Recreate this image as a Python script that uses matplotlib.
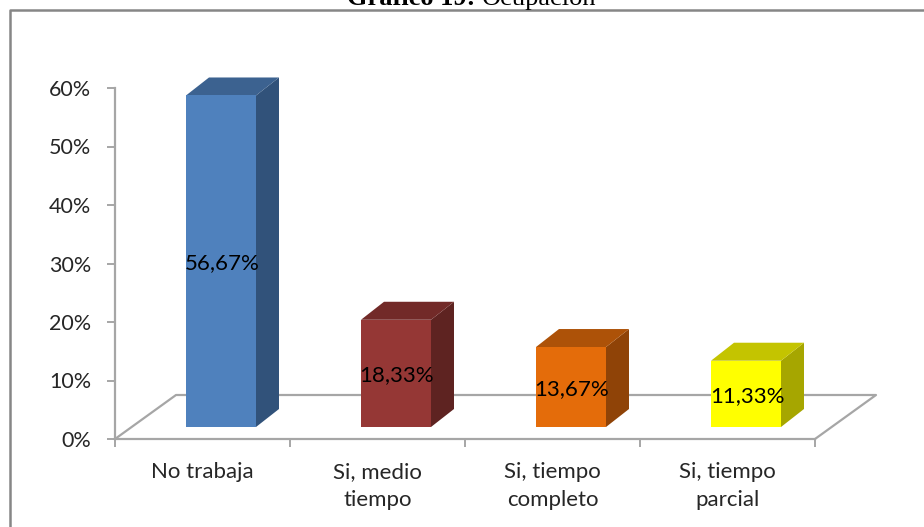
import matplotlib
matplotlib.use("Agg")
import matplotlib.pyplot as plt
from matplotlib.patches import Polygon, Rectangle

categorias = ["No trabaja", "Si, medio\ntiempo", "Si, tiempo\ncompleto", "Si, tiempo\nparcial"]
valores = [56.67, 18.33, 13.67, 11.33]
etiquetas = ["56,67%", "18,33%", "13,67%", "11,33%"]
ticks_y = [0, 10, 20, 30, 40, 50, 60]

color_frente = ["#4f81bd", "#953735", "#e46c0a", "#ffff00"]
color_techo = ["#3c6290", "#722a28", "#ad5208", "#c4c400"]
color_lado = ["#31527a", "#5e2321", "#8f4307", "#a6a600"]

GRIS = "#a6a6a6"
W, H = 924, 527

plt.rcParams["font.family"] = ["Lato", "DejaVu Sans"]

fig = plt.figure(figsize=(W / 100, H / 100), dpi=100)
ax = fig.add_axes([115 / W, 1 - 439 / H, 700 / W, 351 / H])
ax.set_xlim(0, 4)
ax.set_ylim(0, 60)

# conversion de pixeles de profundidad a unidades de datos
px_x = 4 / 700
px_y = 60 / 351

# piso en perspectiva
fx, fy = 61 * px_x, 44 * px_y
ax.plot([0, fx, 4 + fx, 4], [0, fy, fy, 0], color=GRIS, lw=1.6, clip_on=False, zorder=1)

# barras 3d
ancho = 70 * px_x
base = 12 * px_y
dx, dy = 23 * px_x, 18 * px_y
for i, v in enumerate(valores):
    x0 = i + 71 * px_x
    x1 = x0 + ancho
    y0 = base
    y1 = base + v
    ax.add_patch(Polygon([(x1, y0), (x1 + dx, y0 + dy), (x1 + dx, y1 + dy), (x1, y1)],
                         fc=color_lado[i], ec="none", clip_on=False, zorder=3))
    ax.add_patch(Polygon([(x0, y1), (x0 + dx, y1 + dy), (x1 + dx, y1 + dy), (x1, y1)],
                         fc=color_techo[i], ec="none", clip_on=False, zorder=3))
    ax.add_patch(Rectangle((x0, y0), ancho, v, fc=color_frente[i], ec="none", clip_on=False, zorder=4))
    ax.text(x0 + ancho / 2 + 1 * px_x, y0 + v / 2 - 2 * px_y, etiquetas[i], ha="center", va="center",
            fontsize=16, color="black", zorder=5)

for s in ["top", "right"]:
    ax.spines[s].set_visible(False)
for s in ["left", "bottom"]:
    ax.spines[s].set_color(GRIS)
    ax.spines[s].set_linewidth(1.6)

ax.set_yticks(ticks_y)
ax.set_yticklabels([f"{t}%" for t in ticks_y], fontsize=15.5, color="#262626")
ax.set_xticks(range(5))
ax.set_xticklabels([])
ax.tick_params(axis="both", length=6, width=1.4, color=GRIS, pad=11)

for i, c in enumerate(categorias):
    ax.text(i + 0.5, -3.9, c, ha="center", va="top", fontsize=16, color="#262626",
            linespacing=1.5, clip_on=False)

# marco del grafico (abierto a la derecha y abajo, como en el original) y titulo
fig.add_artist(plt.Line2D([10 / W, 10 / W, 1], [0, 1 - 10 / H, 1 - 10 / H], transform=fig.transFigure,
                          color="#868686", lw=1.8, zorder=0))
fig.text(347 / W, 1 - 5 / H, "Gráfico 19:", family="Liberation Serif", fontweight="bold",
         fontsize=19, ha="left", va="baseline", color="black")
fig.text(482 / W, 1 - 5 / H, "Ocupación", family="Liberation Serif",
         fontsize=19, ha="left", va="baseline", color="black")

fig.savefig("out.png", dpi=100)
plt.close(fig)
